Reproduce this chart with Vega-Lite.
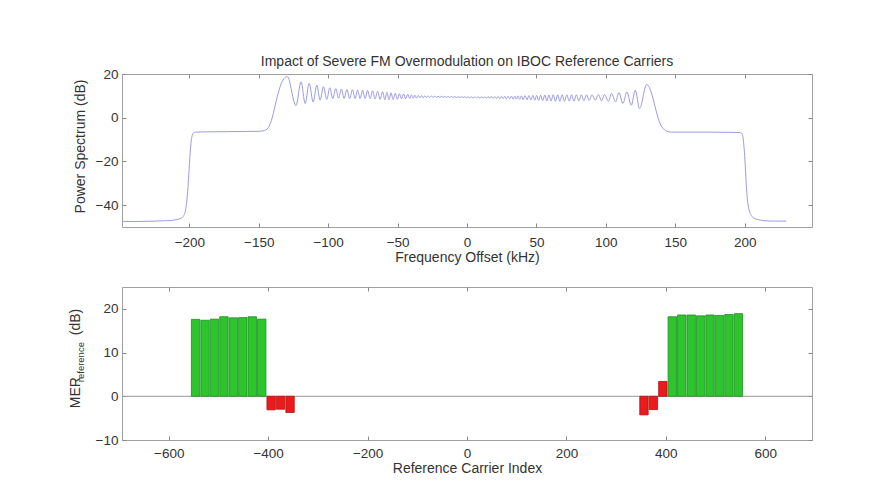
{
  "$schema": "https://vega.github.io/schema/vega-lite/v6.json",
  "background": "white",
  "padding": {"left": 67, "top": 54, "right": 10, "bottom": 5},
  "bounds": "flush",
  "spacing": 60,
  "config": {
    "font": "Liberation Sans",
    "view": {"stroke": "#a0a0a0", "strokeWidth": 1},
    "axis": {
      "grid": false, "domain": false, "tickSize": -4, "tickColor": "#8a8a8a", "tickWidth": 1,
      "labelFont": "Liberation Sans", "labelFontSize": 13.5, "labelColor": "#333333", "labelPadding": 8,
      "titleFont": "Liberation Sans", "titleFontSize": 14, "titleFontWeight": "normal", "titleColor": "#333333"
    }
  },
  "datasets": {
    "spectrum": [
      {"f": -248, "p": -47.4}, {"f": -240, "p": -47.5}, {"f": -230, "p": -47.4}, {"f": -220, "p": -47.2},
      {"f": -213, "p": -47.0}, {"f": -209, "p": -46.6}, {"f": -206, "p": -46.0}, {"f": -204, "p": -44.8},
      {"f": -202.8, "p": -42.5}, {"f": -201.8, "p": -38}, {"f": -201, "p": -32}, {"f": -200.2, "p": -24},
      {"f": -199.4, "p": -16}, {"f": -198.6, "p": -10.5}, {"f": -197.8, "p": -7.8}, {"f": -197, "p": -6.9},
      {"f": -195.5, "p": -6.6}, {"f": -190, "p": -6.5}, {"f": -175, "p": -6.4}, {"f": -160, "p": -6.3},
      {"f": -150, "p": -6.2}, {"f": -147, "p": -6.0}, {"f": -145, "p": -5.6}, {"f": -143.2, "p": -4.6},
      {"f": -141.6, "p": -2.6}, {"f": -140.2, "p": 0.2}, {"f": -138.8, "p": 3.8}, {"f": -137.4, "p": 7.8},
      {"f": -136, "p": 11.2}, {"f": -134.6, "p": 14.2}, {"f": -133.2, "p": 16.4}, {"f": -131.8, "p": 17.9},
      {"f": -130.5, "p": 18.6}, {"f": -129.4, "p": 18.8},
      {"f": -123.2, "p": 5.5}, {"f": -119.5, "p": 16.4}, {"f": -116.6, "p": 6.5}, {"f": -113.7, "p": 15.7},
      {"f": -110.8, "p": 7.2}, {"f": -108.2, "p": 14.9}, {"f": -105.8, "p": 8.0}, {"f": -103.4, "p": 14.2},
      {"f": -101.0, "p": 8.4}, {"f": -98.8, "p": 13.7}, {"f": -96.7, "p": 8.8}, {"f": -94.5, "p": 13.3},
      {"f": -92.5, "p": 8.9}, {"f": -90.5, "p": 13.1}, {"f": -88.5, "p": 8.8}, {"f": -86.5, "p": 13.0},
      {"f": -84.5, "p": 8.7}, {"f": -82.5, "p": 12.8}, {"f": -80.6, "p": 8.7}, {"f": -78.8, "p": 12.7},
      {"f": -77.0, "p": 8.7}, {"f": -75.2, "p": 12.6}, {"f": -73.4, "p": 8.7}, {"f": -71.6, "p": 12.5},
      {"f": -69.8, "p": 8.7}, {"f": -68.0, "p": 12.3}, {"f": -66.2, "p": 8.6}, {"f": -64.4, "p": 12.1},
      {"f": -62.6, "p": 8.4}, {"f": -60.8, "p": 11.9}, {"f": -59.2, "p": 8.2}, {"f": -57.7, "p": 11.6},
      {"f": -56.2, "p": 8.2}, {"f": -54.7, "p": 11.4}, {"f": -53.2, "p": 8.3}, {"f": -51.7, "p": 11.2},
      {"f": -50.2, "p": 8.4}, {"f": -48.7, "p": 11.0}, {"f": -47.2, "p": 8.6}, {"f": -45.7, "p": 10.9},
      {"f": -44.2, "p": 8.7}, {"f": -42.7, "p": 10.7}, {"f": -41.2, "p": 8.8}, {"f": -40.0, "p": 10.5},
      {"f": -38.8, "p": 8.9}, {"f": -37.6, "p": 10.3}, {"f": -36.4, "p": 9.0}, {"f": -35.2, "p": 10.2},
      {"f": -34.0, "p": 9.1}, {"f": -32.8, "p": 10.1}, {"f": -31.6, "p": 9.1}, {"f": -30.4, "p": 10.0},
      {"f": -29.2, "p": 9.2}, {"f": -28.0, "p": 10.0}, {"f": -26.8, "p": 9.2}, {"f": -25.6, "p": 9.9},
      {"f": -24.4, "p": 9.3}, {"f": -23.2, "p": 9.9}, {"f": -22.0, "p": 9.3}, {"f": -20.8, "p": 9.8},
      {"f": -19.6, "p": 9.3}, {"f": -18.4, "p": 9.8}, {"f": -17.2, "p": 9.3}, {"f": -16.0, "p": 9.8},
      {"f": -14.8, "p": 9.3}, {"f": -13.6, "p": 9.7}, {"f": -12.4, "p": 9.3}, {"f": -11.2, "p": 9.7},
      {"f": -10.0, "p": 9.2}, {"f": -8.8, "p": 9.7}, {"f": -7.6, "p": 9.2}, {"f": -6.4, "p": 9.6},
      {"f": -5.2, "p": 9.2}, {"f": -4.0, "p": 9.6}, {"f": -2.8, "p": 9.2}, {"f": -1.6, "p": 9.6},
      {"f": -0.4, "p": 9.1}, {"f": 0.8, "p": 9.6}, {"f": 2.0, "p": 9.0}, {"f": 3.2, "p": 9.6},
      {"f": 4.4, "p": 9.0}, {"f": 5.6, "p": 9.6}, {"f": 6.8, "p": 9.0}, {"f": 8.0, "p": 9.6},
      {"f": 9.2, "p": 8.9}, {"f": 10.4, "p": 9.6}, {"f": 11.6, "p": 8.9}, {"f": 12.8, "p": 9.6},
      {"f": 14.0, "p": 8.9}, {"f": 15.2, "p": 9.7}, {"f": 16.4, "p": 8.8}, {"f": 17.6, "p": 9.7},
      {"f": 18.8, "p": 8.8}, {"f": 20.0, "p": 9.7}, {"f": 21.2, "p": 8.8}, {"f": 22.4, "p": 9.7},
      {"f": 23.6, "p": 8.7}, {"f": 24.8, "p": 9.8}, {"f": 26.0, "p": 8.7}, {"f": 27.2, "p": 9.8},
      {"f": 28.4, "p": 8.6}, {"f": 29.6, "p": 9.8}, {"f": 30.8, "p": 8.6}, {"f": 32.0, "p": 9.9},
      {"f": 33.2, "p": 8.5}, {"f": 34.4, "p": 9.9}, {"f": 35.6, "p": 8.5}, {"f": 36.8, "p": 10.0},
      {"f": 38.0, "p": 8.4}, {"f": 39.2, "p": 10.0}, {"f": 40.4, "p": 8.3}, {"f": 41.8, "p": 10.1},
      {"f": 43.2, "p": 8.2}, {"f": 44.6, "p": 10.1}, {"f": 46.0, "p": 8.1}, {"f": 47.4, "p": 10.2},
      {"f": 48.8, "p": 8.0}, {"f": 50.2, "p": 10.2}, {"f": 51.6, "p": 7.9}, {"f": 53.0, "p": 10.3},
      {"f": 54.5, "p": 7.8}, {"f": 56.0, "p": 10.4}, {"f": 57.5, "p": 7.7}, {"f": 59.0, "p": 10.4},
      {"f": 60.5, "p": 7.6}, {"f": 62.1, "p": 10.5}, {"f": 63.7, "p": 7.5}, {"f": 65.3, "p": 10.5},
      {"f": 66.9, "p": 7.5}, {"f": 68.5, "p": 10.5}, {"f": 70.2, "p": 7.5}, {"f": 71.9, "p": 10.5},
      {"f": 73.6, "p": 7.5}, {"f": 75.3, "p": 10.5}, {"f": 77.0, "p": 7.6}, {"f": 78.8, "p": 10.5},
      {"f": 80.6, "p": 7.7}, {"f": 82.4, "p": 10.5}, {"f": 84.2, "p": 7.8}, {"f": 86.1, "p": 10.5},
      {"f": 88.0, "p": 7.9}, {"f": 90.0, "p": 10.5}, {"f": 92.4, "p": 8.0}, {"f": 94.6, "p": 10.6},
      {"f": 96.9, "p": 7.7}, {"f": 99.1, "p": 10.6}, {"f": 101.8, "p": 7.5}, {"f": 104.1, "p": 11.1},
      {"f": 107.0, "p": 7.2}, {"f": 109.4, "p": 11.5}, {"f": 112.3, "p": 6.5}, {"f": 115.2, "p": 11.8},
      {"f": 118.3, "p": 5.7}, {"f": 121.2, "p": 12.6}, {"f": 124.3, "p": 4.2}, {"f": 129.4, "p": 15.2},
      {"f": 131.0, "p": 14.2}, {"f": 132.6, "p": 11.8}, {"f": 134.0, "p": 8.8}, {"f": 135.4, "p": 5.2},
      {"f": 136.8, "p": 1.8}, {"f": 138.2, "p": -1.2}, {"f": 139.6, "p": -3.4}, {"f": 141.2, "p": -4.9},
      {"f": 143.0, "p": -5.9}, {"f": 145.0, "p": -6.4}, {"f": 147.5, "p": -6.6}, {"f": 160, "p": -6.6},
      {"f": 175, "p": -6.6}, {"f": 190, "p": -6.7}, {"f": 196, "p": -6.8}, {"f": 198, "p": -7.2},
      {"f": 198.8, "p": -9.0}, {"f": 199.4, "p": -12.5}, {"f": 200.0, "p": -17.4}, {"f": 200.6, "p": -24},
      {"f": 201.2, "p": -31}, {"f": 201.9, "p": -37}, {"f": 202.8, "p": -41.2}, {"f": 204, "p": -43.8},
      {"f": 205.5, "p": -45.3}, {"f": 207.5, "p": -46.2}, {"f": 210, "p": -46.7}, {"f": 214, "p": -47.1},
      {"f": 222, "p": -47.3}, {"f": 230, "p": -47.3}
    ],
    "mer": [
      {"idx": -546, "mer": 17.6, "q": "pass"}, {"idx": -527, "mer": 17.4, "q": "pass"},
      {"idx": -508, "mer": 17.65, "q": "pass"}, {"idx": -489, "mer": 18.2, "q": "pass"},
      {"idx": -470, "mer": 17.95, "q": "pass"}, {"idx": -451, "mer": 18.0, "q": "pass"},
      {"idx": -432, "mer": 18.2, "q": "pass"}, {"idx": -413, "mer": 17.65, "q": "pass"},
      {"idx": -394, "mer": -3.1, "q": "fail"}, {"idx": -375, "mer": -2.95, "q": "fail"},
      {"idx": -356, "mer": -3.7, "q": "fail"},
      {"idx": 356, "mer": -4.25, "q": "fail"}, {"idx": 375, "mer": -3.05, "q": "fail"},
      {"idx": 394, "mer": 3.4, "q": "fail"}, {"idx": 413, "mer": 18.2, "q": "pass"},
      {"idx": 432, "mer": 18.6, "q": "pass"}, {"idx": 451, "mer": 18.6, "q": "pass"},
      {"idx": 470, "mer": 18.4, "q": "pass"}, {"idx": 489, "mer": 18.6, "q": "pass"},
      {"idx": 508, "mer": 18.5, "q": "pass"}, {"idx": 527, "mer": 18.7, "q": "pass"},
      {"idx": 546, "mer": 18.9, "q": "pass"}
    ]
  },
  "vconcat": [
    {
      "width": 690,
      "height": 153,
      "title": {"text": "Impact of Severe FM Overmodulation on IBOC Reference Carriers", "fontSize": 14, "fontWeight": "normal", "color": "#333333", "frame": "group", "anchor": "middle", "offset": -2},
      "data": {"name": "spectrum"},
      "layer": [
        {
          "mark": {"type": "line", "color": "#9b9be3", "strokeWidth": 1, "interpolate": "monotone"},
          "encoding": {
            "x": {"field": "f", "type": "quantitative", "scale": {"domain": [-248.5, 248.5], "nice": false, "zero": false},
              "axis": {"values": [-200, -150, -100, -50, 0, 50, 100, 150, 200], "title": "Frequency Offset (kHz)", "labelPadding": 12, "titleY": 23, "titleBaseline": "top"}},
            "y": {"field": "p", "type": "quantitative", "scale": {"domain": [-50, 20], "nice": false, "zero": false},
              "axis": {"values": [-40, -20, 0, 20], "title": "Power Spectrum (dB)", "titleX": -37.7, "titleY": 72, "titleAngle": 270, "titleAlign": "center", "titleBaseline": "alphabetic"}}
          }
        },
        {
          "mark": {"type": "line", "strokeOpacity": 0},
          "encoding": {
            "x": {"field": "f", "type": "quantitative", "scale": {"domain": [-248.5, 248.5], "nice": false, "zero": false},
              "axis": {"orient": "top", "values": [-200, -150, -100, -50, 0, 50, 100, 150, 200], "labels": false, "title": null}},
            "y": {"field": "p", "type": "quantitative", "scale": {"domain": [-50, 20], "nice": false, "zero": false},
              "axis": {"orient": "right", "values": [-40, -20, 0, 20], "labels": false, "title": null}}
          }
        }
      ],
      "resolve": {"axis": {"x": "independent", "y": "independent"}}
    },
    {
      "width": 690,
      "height": 153,
      "layer": [
        {
          "data": {"values": [{"z": 0}]},
          "mark": {"type": "rule", "color": "#9a9a9a", "strokeWidth": 1},
          "encoding": {
            "y": {"field": "z", "type": "quantitative", "scale": {"domain": [-10, 25], "nice": false, "zero": false},
              "axis": {"orient": "right", "values": [-10, 0, 10, 20], "labels": false, "title": "(dB)", "titleX": -732.7, "titleY": 47.7, "titleAngle": 270, "titleAlign": "left", "titleBaseline": "alphabetic"}}
          }
        },
        {
          "data": {"name": "mer"},
          "mark": {"type": "bar", "width": 8.4, "strokeWidth": 0.8},
          "encoding": {
            "x": {"field": "idx", "type": "quantitative", "scale": {"domain": [-684, 684], "nice": false, "zero": false},
              "axis": {"orient": "bottom", "values": [-600, -400, -200, 0, 200, 400, 600], "title": "Reference Carrier Index", "labelPadding": 10.6, "titleY": 21.7, "titleBaseline": "top"}},
            "y": {"field": "mer", "type": "quantitative", "scale": {"domain": [-10, 25], "nice": false, "zero": false},
              "axis": {"orient": "left", "values": [-10, 0, 10, 20], "title": "MER", "titleX": -42.7, "titleY": 120.7, "titleAngle": 270, "titleAlign": "left", "titleBaseline": "alphabetic"}},
            "color": {"field": "q", "type": "nominal", "scale": {"domain": ["pass", "fail"], "range": ["#2cc62c", "#ec1a1a"]}, "legend": null},
            "stroke": {"field": "q", "type": "nominal", "scale": {"domain": ["pass", "fail"], "range": ["#23892a", "#a81414"]}, "legend": null}
          }
        },
        {
          "data": {"name": "mer"},
          "mark": {"type": "point", "opacity": 0},
          "encoding": {
            "x": {"field": "idx", "type": "quantitative", "scale": {"domain": [-684, 684], "nice": false, "zero": false},
              "axis": {"orient": "top", "values": [-600, -400, -200, 0, 200, 400, 600], "labels": false, "title": null}},
            "y": {"field": "mer", "type": "quantitative", "scale": {"domain": [-10, 25], "nice": false, "zero": false},
              "axis": {"orient": "left", "labels": false, "ticks": false, "title": "reference", "titleFontSize": 9.5, "titleX": -38.3, "titleY": 94.7, "titleAngle": 270, "titleAlign": "left", "titleBaseline": "alphabetic"}}
          }
        }
      ],
      "resolve": {"axis": {"x": "independent", "y": "independent"}}
    }
  ]
}
